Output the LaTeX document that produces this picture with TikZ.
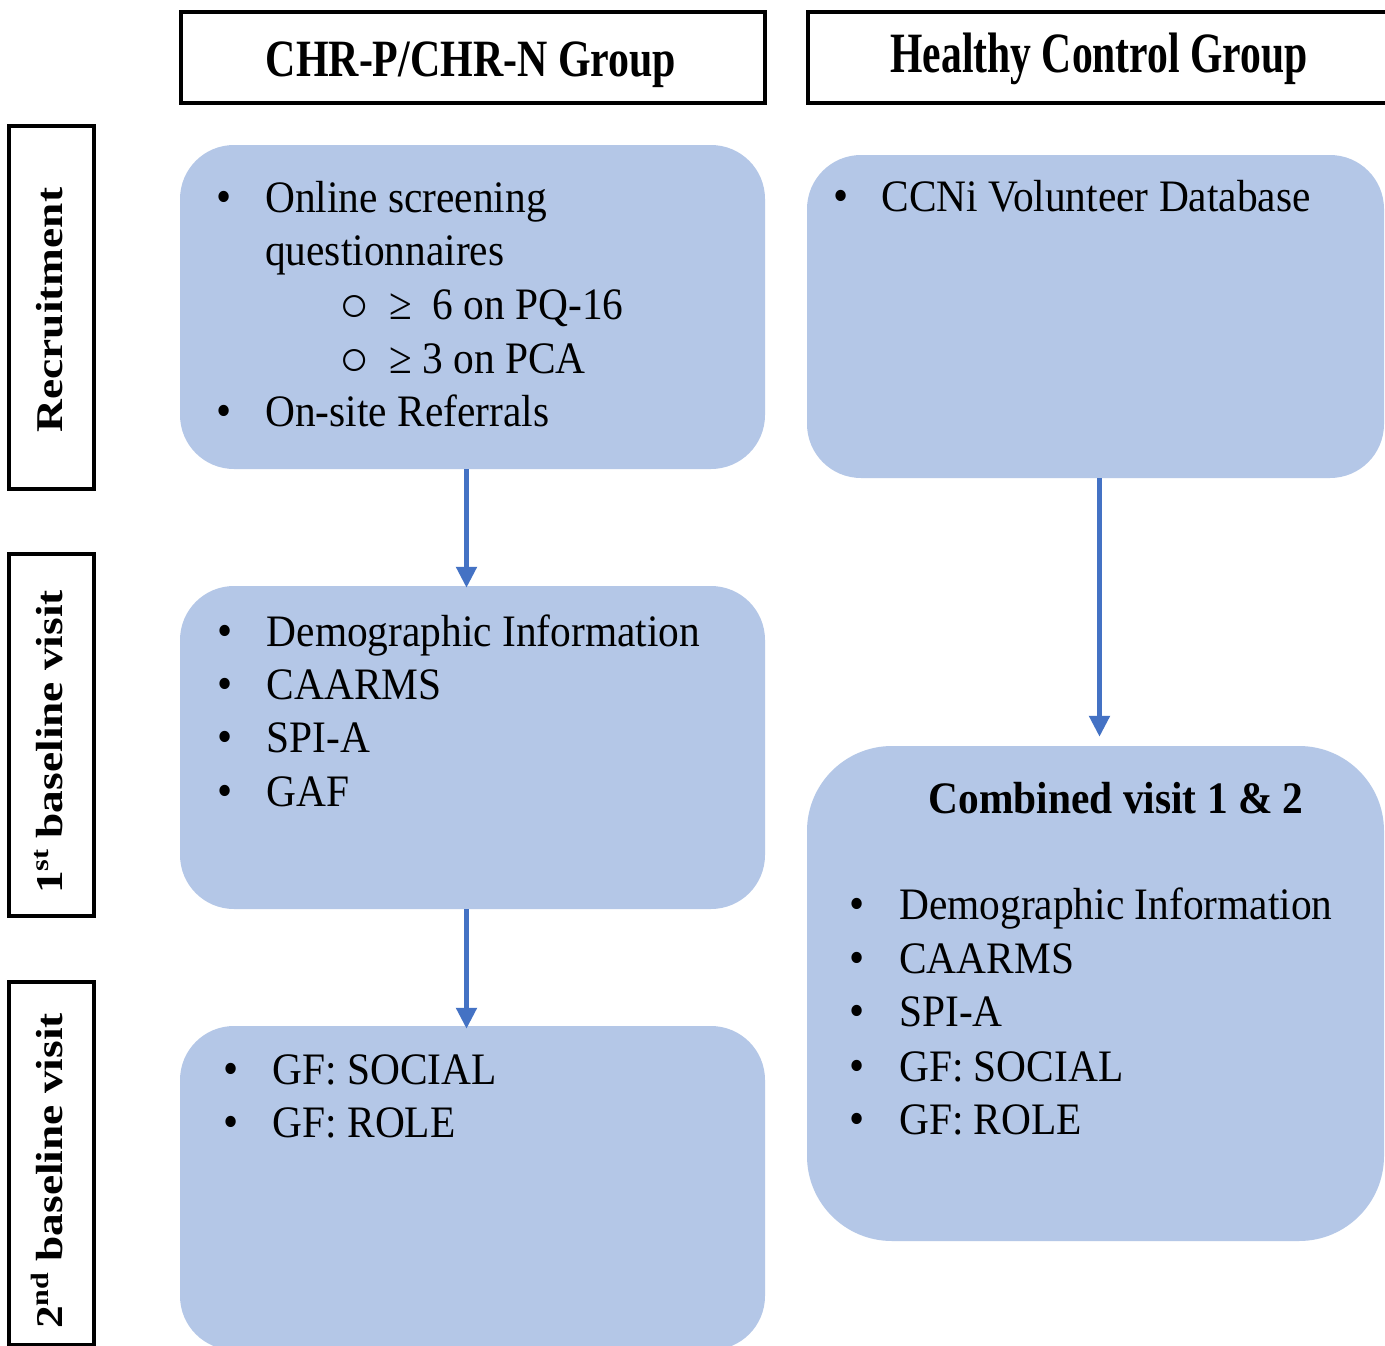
\documentclass[tikz,border=0pt]{standalone}
\usepackage{fontspec}
\setmainfont{Liberation Serif}
\newfontfamily\bodyfont{Liberation Serif}[FakeStretch=0.92]
\newfontfamily\lheadfont{Liberation Serif}[FakeStretch=0.80]
\newfontfamily\rheadfont{Liberation Serif}[FakeStretch=0.73]
\newfontfamily\sidefont{Liberation Serif}[FakeStretch=1.2]
\usetikzlibrary{arrows.meta}

\definecolor{boxfill}{HTML}{B4C7E7}
\definecolor{arrowblue}{HTML}{4472C4}

\tikzset{
  framebox/.style={draw=black, line width=3.2pt, fill=white, inner sep=0pt},
  bluebox/.style={fill=boxfill, draw=none, inner sep=0pt, rounded corners=54pt},
  bodytext/.style={inner sep=0pt, anchor=base west, font=\bodyfont\fontsize{45}{54}\selectfont},
  bulletmark/.style={inner sep=0pt, anchor=base, font=\bodyfont\fontsize{47}{54}\selectfont},
  submark/.style={inner sep=0pt, anchor=base, font=\fontsize{50}{56}\selectfont},
  sidetext/.style={inner sep=0pt, anchor=base, rotate=90, font=\sidefont\bfseries\fontsize{37.8}{40}\selectfont},
  flowarrow/.style={draw=arrowblue, line width=5pt, -{Triangle[length=21pt,width=20pt]}}
}
\newcommand{\supmark}[1]{\raisebox{0.36em}{\fontsize{25}{25}\selectfont #1}}

\begin{document}
\begin{tikzpicture}[x=1pt,y=-1pt]
  \useasboundingbox (0,0) rectangle (1385,1346);
  \fill[white] (0,0) rectangle (1385,1346);
  \clip (0,0) rectangle (1385,1346);

  % column headers
  \node[framebox, minimum width=584pt, minimum height=91pt] (hleft) at (473,57.5) {};
  \node[framebox, minimum width=584pt, minimum height=91pt] (hright) at (1100,57.5) {};
  \node[inner sep=0pt, anchor=base, font=\lheadfont\bfseries\fontsize{52.4}{60}\selectfont]
    (hlefttext) at (471,77) {CHR-P/CHR-N Group};
  \node[inner sep=0pt, anchor=base, font=\rheadfont\bfseries\fontsize{57}{64}\selectfont]
    (hrighttext) at (1099,72.5) {Healthy Control Group};

  % row labels
  \node[framebox, minimum width=85pt, minimum height=363pt] (srec) at (51.5,307.5) {};
  \node[framebox, minimum width=85pt, minimum height=362pt] (sfirst) at (51.5,735) {};
  \node[framebox, minimum width=85pt, minimum height=363pt] (ssecond) at (51.5,1163.5) {};
  \node[sidetext] (srectext) at (62,310) {Recruitment};
  \node[sidetext] (sfirsttext) at (62,742) {1\supmark{st} baseline visit};
  \node[sidetext] (ssecondtext) at (62,1171) {2\supmark{nd} baseline visit};

  % content boxes
  \node[bluebox, minimum width=585pt, minimum height=324pt] (b1) at (472.5,307) {};
  \node[bluebox, minimum width=585pt, minimum height=323pt] (b2) at (472.5,747.5) {};
  \node[bluebox, minimum width=585pt, minimum height=324pt] (b3) at (472.5,1188) {};
  \node[bluebox, minimum width=577pt, minimum height=323pt] (r1) at (1095.5,316.5) {};
  \node[bluebox, rounded corners=85pt, minimum width=577pt, minimum height=495pt] (r2) at (1095.5,993.5) {};

  % connectors
  \draw[flowarrow] ([xshift=-6pt]b1.south) -- ([xshift=-6pt,yshift=-2pt]b2.north);
  \draw[flowarrow] ([xshift=-6pt]b2.south) -- ([xshift=-6pt,yshift=-3pt]b3.north);
  \draw[flowarrow] ([xshift=4pt]r1.south) -- ([xshift=4pt,yshift=9pt]r2.north);

  % recruitment, patient group
  \node[bulletmark] (b1m1) at (224.5,212) {•};
  \node[bodytext] (b1t1) at (265,212) {Online screening};
  \node[bodytext] (b1t2) at (265,265.5) {questionnaires};
  \node[submark] (b1s1) at (354.7,321) {○};
  \node[bodytext] (b1t3) at (389,319) {≥~~6 on PQ-16};
  \node[submark] (b1s2) at (354.7,375) {○};
  \node[bodytext] (b1t4) at (389,373) {≥ 3 on PCA};
  \node[bulletmark] (b1m2) at (224.5,426) {•};
  \node[bodytext] (b1t5) at (265,426) {On-site Referrals};

  % first baseline visit
  \node[bulletmark] (b2m1) at (225.5,646.7) {•};
  \node[bodytext] (b2t1) at (266.6,646.7) {Demographic Information};
  \node[bulletmark] (b2m2) at (225.5,699.3) {•};
  \node[bodytext] (b2t2) at (266.6,699.3) {CAARMS};
  \node[bulletmark] (b2m3) at (225.5,752.7) {•};
  \node[bodytext] (b2t3) at (266.6,752.7) {SPI-A};
  \node[bulletmark] (b2m4) at (225.5,806) {•};
  \node[bodytext] (b2t4) at (266.6,806) {GAF};

  % second baseline visit
  \node[bulletmark] (b3m1) at (231.5,1084.3) {•};
  \node[bodytext] (b3t1) at (272.5,1084.3) {GF: SOCIAL};
  \node[bulletmark] (b3m2) at (231.5,1137) {•};
  \node[bodytext] (b3t2) at (272.5,1137) {GF: ROLE};

  % healthy control recruitment
  \node[bulletmark] (r1m1) at (841,211) {•};
  \node[bodytext] (r1t1) at (881.3,211) {CCNi Volunteer Database};

  % healthy control combined visit
  \node[inner sep=0pt, anchor=base, font=\bodyfont\bfseries\fontsize{45}{54}\selectfont]
    (r2title) at (1116.2,813.2) {Combined visit 1 \& 2};
  \node[bulletmark] (r2m1) at (857.5,919.8) {•};
  \node[bodytext] (r2t1) at (899,919.8) {Demographic Information};
  \node[bulletmark] (r2m2) at (857.5,973) {•};
  \node[bodytext] (r2t2) at (899,973) {CAARMS};
  \node[bulletmark] (r2m3) at (857.5,1026.3) {•};
  \node[bodytext] (r2t3) at (899,1026.3) {SPI-A};
  \node[bulletmark] (r2m4) at (857.5,1081.2) {•};
  \node[bodytext] (r2t4) at (899,1081.2) {GF: SOCIAL};
  \node[bulletmark] (r2m5) at (857.5,1134.5) {•};
  \node[bodytext] (r2t5) at (899,1134.5) {GF: ROLE};
\end{tikzpicture}
\end{document}
